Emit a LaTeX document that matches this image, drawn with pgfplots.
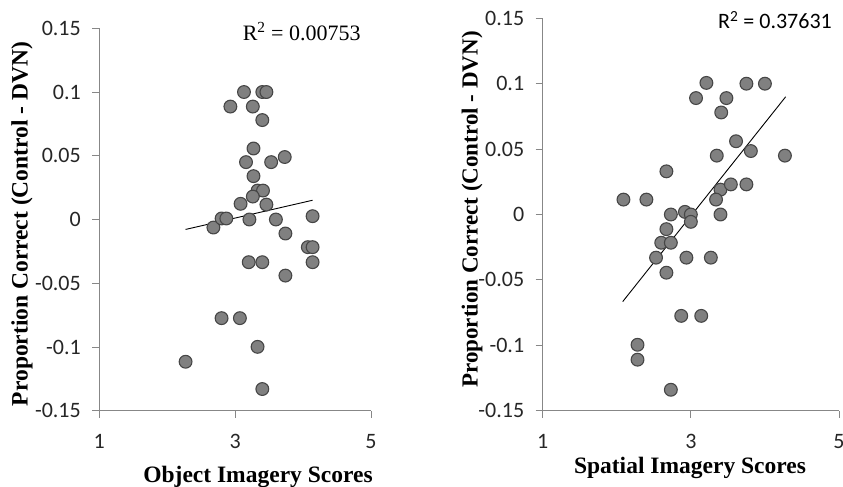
\documentclass[border=0pt]{standalone}
\usepackage{fontspec}
\setmainfont{Carlito}
\newfontfamily\cambria{Liberation Serif}
\usepackage{pgfplots}
\pgfplotsset{compat=1.18}

\definecolor{axisgray}{RGB}{135,135,135}
\definecolor{dotgray}{RGB}{128,128,128}
\definecolor{dotedge}{RGB}{70,70,70}

\pgfplotsset{
  imgscat/.style={
    scale only axis,
    axis lines*=left,
    axis line style={axisgray, line width=0.9pt, -},
    tick style={axisgray, line width=0.9pt},
    tick align=outside,
    major tick length=7pt,
    xmin=1, xmax=5, ymin=-0.15, ymax=0.15,
    xtick={1,3,5},
    xticklabels={1,3,5},
    ytick={-0.15,-0.1,-0.05,0,0.05,0.1,0.15},
    yticklabels={-0.15,-0.1,-0.05,0,0.05,0.1,0.15},
    tick label style={font=\fontsize{22}{24}\selectfont, text=black!85},
    xticklabel style={yshift=-15pt, inner sep=1pt},
    yticklabel style={xshift=-8pt},
    clip=false,
  },
  dots/.style={only marks, mark=*, mark size=6.4pt,
    mark options={fill=dotgray, draw=dotedge, line width=1.1pt}},
  fitline/.style={black, line width=0.9pt, no marks},
}

\begin{document}
\begin{tikzpicture}[x=1pt, y=1pt]
\useasboundingbox (0,0) rectangle (843,487);

% left panel: object imagery
\begin{axis}[imgscat, at={(99.3pt,76.3pt)}, anchor=south west,
  width=271.7pt, height=382.4pt]
\addplot[dots] coordinates {
  (3.13,0.100) (3.40,0.100) (3.46,0.100) (2.93,0.0886) (3.26,0.0886)
  (3.40,0.078) (3.27,0.0557) (3.16,0.045) (3.53,0.045) (3.73,0.049)
  (3.27,0.034) (3.33,0.0227) (3.41,0.0227) (3.26,0.018) (3.08,0.0123)
  (3.46,0.0117) (2.68,-0.0063) (2.80,0.0008) (2.87,0.0008) (3.21,0)
  (3.60,0) (4.14,0.0026) (3.74,-0.011) (4.07,-0.0217) (4.14,-0.0217)
  (3.20,-0.0335) (3.40,-0.0335) (4.14,-0.0335) (3.74,-0.044)
  (2.80,-0.0774) (3.07,-0.0774) (3.33,-0.0999) (2.27,-0.1116) (3.40,-0.133)
};
\addplot[fitline] coordinates {(2.27,-0.0078) (4.14,0.0151)};
\end{axis}

% right panel: spatial imagery
\begin{axis}[imgscat, at={(542.7pt,76.3pt)}, anchor=south west,
  width=296.3pt, height=392.4pt]
\addplot[dots] coordinates {
  (3.21,0.1006) (3.75,0.1) (4.00,0.1) (3.07,0.089) (3.48,0.089)
  (3.41,0.078) (3.61,0.056) (3.81,0.0485) (3.35,0.045) (4.27,0.045)
  (2.67,0.033) (3.40,0.019) (3.54,0.023) (3.75,0.023) (3.34,0.0114)
  (2.09,0.0114) (2.40,0.0114) (2.73,0) (2.92,0.002) (3.00,0) (3.40,0)
  (3.00,-0.0056) (2.67,-0.0112) (2.60,-0.0216) (2.73,-0.0216)
  (2.53,-0.033) (2.94,-0.033) (3.27,-0.033) (2.67,-0.0445)
  (2.87,-0.0775) (3.14,-0.0775) (2.28,-0.0996) (2.28,-0.111) (2.73,-0.134)
};
\addplot[fitline] coordinates {(2.08,-0.0666) (4.28,0.090)};
\end{axis}

% labels
\node[font=\cambria\fontsize{22}{24}\selectfont] at (301.7,455.3) {R\textsuperscript{2} = 0.00753};
\node[font=\fontsize{22}{24}\selectfont] at (775,467) {R\textsuperscript{2} = 0.37631};
\node[font=\cambria\bfseries\fontsize{23.5}{26}\selectfont, anchor=base, inner sep=0pt] at (258,4.7) {Object Imagery Scores};
\node[font=\cambria\bfseries\fontsize{23.5}{26}\selectfont, anchor=base, inner sep=0pt] at (690,13.5) {Spatial Imagery Scores};
\node[font=\cambria\bfseries\fontsize{23.5}{26}\selectfont, rotate=90] at (22,263) {Proportion Correct (Control - DVN)};
\node[font=\cambria\bfseries\fontsize{23}{26}\selectfont, rotate=90] at (472,277.5) {Proportion Correct (Control - DVN)};
\end{tikzpicture}
\end{document}
